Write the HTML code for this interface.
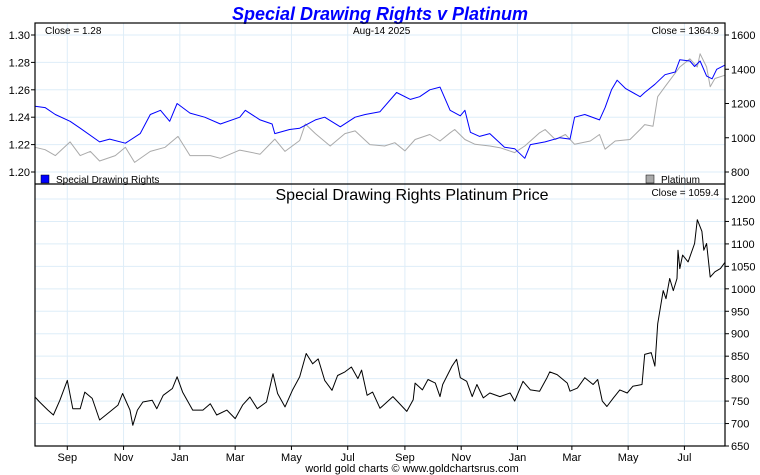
<!DOCTYPE html>
<html><head><meta charset="utf-8"><style>
html,body{margin:0;padding:0;background:#fff;}
svg{display:block;font-family:"Liberation Sans",sans-serif;}
</style></head><body>
<svg id="c" width="760" height="475" viewBox="0 0 760 475">
<text x="380" y="20" text-anchor="middle" font-size="18" font-weight="bold" font-style="italic" fill="#0000ff">Special Drawing Rights v Platinum</text>
<g id="grid"></g>
<g id="series"></g>
<rect x="35" y="23" width="690" height="423" fill="none" stroke="#000" stroke-width="1.2"/>
<line x1="35" y1="184" x2="725" y2="184" stroke="#000" stroke-width="1.2"/>
<g id="axes" font-size="11" fill="#000"></g>
<text x="45" y="34" font-size="10">Close = 1.28</text>
<text x="353" y="34" font-size="10">Aug-14  2025</text>
<text x="719" y="34" font-size="10" text-anchor="end">Close = 1364.9</text>
<rect x="41" y="175" width="8" height="8" fill="#0000ff" stroke="#000" stroke-width="0.5"/>
<text x="56" y="183" font-size="10">Special Drawing Rights</text>
<rect x="646" y="175" width="8" height="8" fill="#aaa" stroke="#000" stroke-width="0.5"/>
<text x="661" y="183" font-size="10">Platinum</text>
<text x="412" y="200" font-size="16" text-anchor="middle">Special Drawing Rights Platinum Price</text>
<text x="719" y="196" font-size="10" text-anchor="end">Close = 1059.4</text>
<text x="412" y="472" font-size="11" text-anchor="middle">world gold charts © www.goldchartsrus.com</text>
</svg>
<script>
const monthLabels = ["Sep","Nov","Jan","Mar","May","Jul","Sep","Nov","Jan","Mar","May","Jul"];
const monthDays = [35,96,157,217,278,339,401,462,523,582,643,704];
const sdrTicks = [1.20,1.22,1.24,1.26,1.28,1.30];
const ptTicks = [800,1000,1200,1400,1600];
const lowTicks = [650,700,750,800,850,900,950,1000,1050,1100,1150,1200];
const sdrDays = [0,11,22,38,49,70,81,98,114,125,136,146,154,168,184,201,222,228,244,257,260,276,287,304,314,331,347,358,374,392,407,417,428,439,450,461,466,472,482,493,509,520,531,537,553,569,580,585,596,612,618,625,631,640,656,661,672,683,694,699,710,715,721,728,734,739,748];
const sdrValues = [1.248,1.247,1.242,1.237,1.232,1.222,1.224,1.221,1.228,1.242,1.245,1.237,1.250,1.243,1.240,1.235,1.240,1.245,1.238,1.235,1.228,1.231,1.232,1.238,1.240,1.233,1.240,1.242,1.244,1.258,1.253,1.255,1.260,1.262,1.245,1.241,1.245,1.229,1.226,1.228,1.218,1.217,1.210,1.220,1.222,1.225,1.224,1.240,1.242,1.238,1.247,1.260,1.267,1.261,1.255,1.258,1.264,1.271,1.273,1.282,1.281,1.277,1.281,1.270,1.268,1.275,1.278];
const ptDays = [0,11,22,38,49,60,70,87,98,108,125,141,155,168,190,201,222,244,260,271,287,293,304,320,336,347,363,379,390,401,412,428,439,450,455,466,477,493,504,520,531,547,553,564,575,585,602,612,618,629,645,656,661,670,675,683,691,699,710,718,721,728,732,737,748];
const ptValues = [944,930,896,976,896,920,864,896,944,856,920,944,1008,896,896,880,928,904,992,920,984,1080,1024,952,1024,1040,960,952,971,923,990,1019,981,1029,1048,990,962,952,942,913,952,1029,1048,990,1019,962,981,1019,933,981,990,1048,1077,1067,1240,1298,1356,1413,1461,1413,1490,1413,1298,1346,1365];
const lowDays = [0,5,14,20,27,35,41,49,54,62,70,81,90,95,103,106,111,117,127,132,139,149,154,160,171,182,190,197,208,217,225,233,241,251,258,263,271,279,287,294,301,307,314,322,328,336,343,350,354,360,366,374,388,403,410,412,420,426,434,439,442,452,457,461,468,474,479,486,493,504,515,520,529,537,547,555,558,566,577,580,588,596,605,610,615,620,627,634,642,648,658,661,668,672,675,681,684,688,692,696,697,699,702,708,715,718,723,725,728,732,737,743,748];
const lowValues = [759,748,730,719,752,796,733,733,770,756,708,726,741,767,730,696,730,748,752,733,763,778,804,770,730,730,744,719,730,711,741,759,733,748,811,767,737,774,804,856,833,844,796,774,807,815,826,800,819,763,770,734,760,727,753,790,775,798,790,760,787,828,843,802,794,760,787,757,768,760,768,750,794,775,772,802,815,809,790,772,779,802,787,798,750,738,757,775,768,783,787,854,858,828,922,996,978,1023,996,1023,1086,1045,1075,1060,1101,1154,1128,1086,1101,1026,1038,1045,1059];

const NS = "http://www.w3.org/2000/svg";
const X0 = 35, X1 = 725, DMAX = 748;
const xs = d => X0 + d * (X1 - X0) / DMAX;
const ySdr = v => 35 + (1.30 - v) * 137 / 0.10;
const yPt = v => 35 + (1600 - v) * 137 / 800;
const yLow = v => 199 + (1200 - v) * 247 / 550;
function mk(tag, attrs, parent) {
  const e = document.createElementNS(NS, tag);
  for (const k in attrs) e.setAttribute(k, attrs[k]);
  parent.appendChild(e);
  return e;
}
const grid = document.getElementById('grid');
const axes = document.getElementById('axes');
const series = document.getElementById('series');
monthDays.forEach((d, i) => {
  const x = xs(d);
  const gl = mk('line', {x1: x, y1: 23, x2: x, y2: 446, stroke: '#deedf8', 'stroke-width': 1}, grid);
  
  
  const tk = mk('line', {x1: x, y1: 446, x2: x, y2: 450, stroke: '#000'}, axes);
  
  
  const t = mk('text', {x: x, y: 461, 'text-anchor': 'middle', 'font-size': 11}, axes);
  t.textContent = monthLabels[i];
  
  
});
sdrTicks.forEach(v => {
  const y = ySdr(v);
  const gl = mk('line', {x1: 35, y1: y, x2: 725, y2: y, stroke: '#deedf8'}, grid);
  
  
  mk('line', {x1: 31, y1: y, x2: 35, y2: y, stroke: '#000'}, axes);
  const t = mk('text', {x: 30, y: y + 4, 'text-anchor': 'end'}, axes);
  t.textContent = v.toFixed(2);
  
  
});
ptTicks.forEach(v => {
  const y = yPt(v);
  mk('line', {x1: 725, y1: y, x2: 729, y2: y, stroke: '#000'}, axes);
  const t = mk('text', {x: 731, y: y + 4}, axes);
  t.textContent = v;
  
  
});
lowTicks.forEach(v => {
  const y = yLow(v);
  const gl = mk('line', {x1: 35, y1: y, x2: 725, y2: y, stroke: '#deedf8'}, grid);
  
  
  mk('line', {x1: 725, y1: y, x2: 729, y2: y, stroke: '#000'}, axes);
  const t = mk('text', {x: 731, y: y + 4}, axes);
  t.textContent = v;
  
  
});
function line(days, vals, yf, color, w) {
  const d = days.map((dd, i) => (i ? 'L' : 'M') + xs(dd).toFixed(1) + ',' + yf(vals[i]).toFixed(1)).join('');
  return mk('path', {d: d, fill: 'none', stroke: color, 'stroke-width': w, 'stroke-linejoin': 'round'}, series);
}
const p1 = line(ptDays, ptValues, yPt, '#aaaaaa', 1);


const p2 = line(sdrDays, sdrValues, ySdr, '#0000ff', 1);


const p3 = line(lowDays, lowValues, yLow, '#000000', 1);


</script>
</body></html>
